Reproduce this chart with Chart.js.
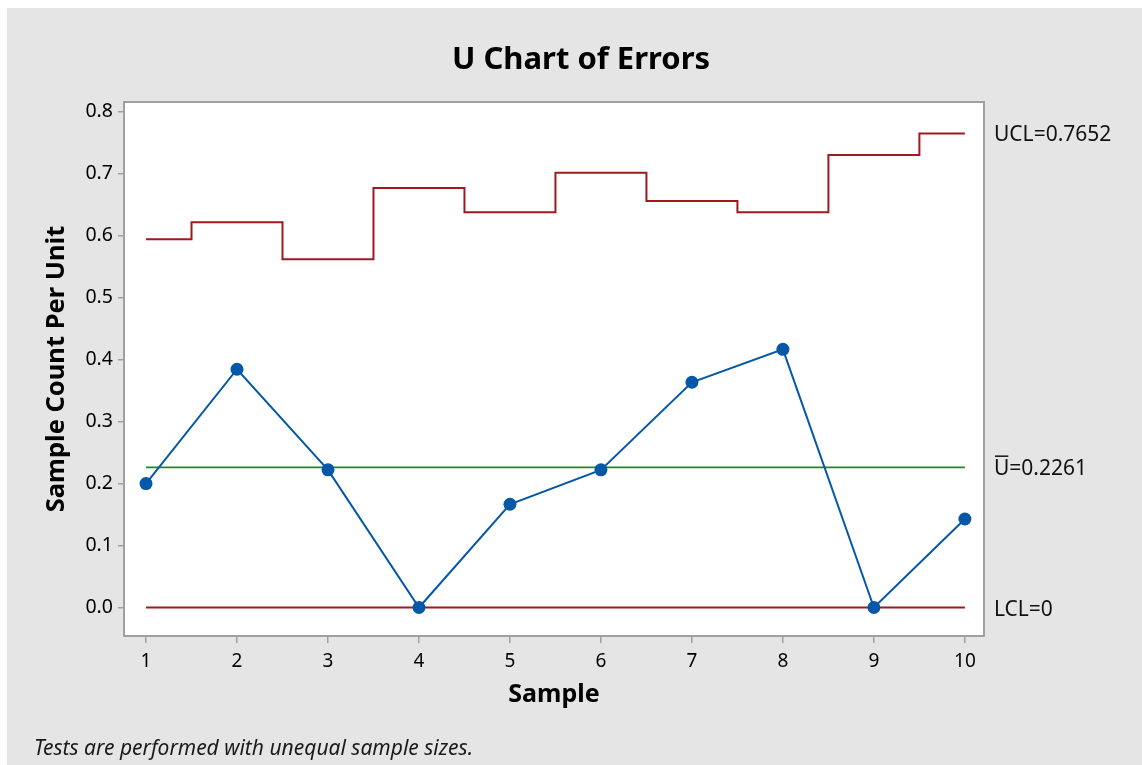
<!DOCTYPE html>
<html>
<head>
<meta charset="utf-8">
<title>U Chart of Errors</title>
<script src="https://cdn.jsdelivr.net/npm/chart.js@4.4.1/dist/chart.umd.min.js"></script>
<style>
  html, body { margin: 0; padding: 0; background: #fff; }
  #wrap { width: 1142px; height: 765px; }
</style>
</head>
<body>
<div id="wrap"><canvas id="u-chart" width="1142" height="765"></canvas></div>
<script>
// Errors per unit for each sample, with the control limits
const samples = [1, 2, 3, 4, 5, 6, 7, 8, 9, 10];
const errorsPerUnit = [0.2, 0.3846, 0.2222, 0, 0.1667, 0.2222, 0.3636, 0.4167, 0, 0.1429];
const ucl = [0.5944, 0.6217, 0.5623, 0.6772, 0.6379, 0.7016, 0.6562, 0.6379, 0.7304, 0.7652];
const uBar = 0.2261;
const lcl = 0;
const yTicks = [0, 0.1, 0.2, 0.3, 0.4, 0.5, 0.6, 0.7, 0.8];

const FONT = '"Noto Sans", "Open Sans", sans-serif';
const RED = '#9e1a1f';
const GREEN = '#1a8a28';
const BLUE = '#0558a8';
const FRAME = '#a0a0a0';

const toPoints = (xs, ys) => xs.map((x, i) => ({ x: x, y: ys[i] }));
const flat = v => [{ x: samples[0], y: v }, { x: samples[samples.length - 1], y: v }];

// grey page, white plot box
const backdrop = {
  id: 'backdrop',
  beforeDraw(chart) {
    const { ctx, chartArea: a } = chart;
    ctx.save();
    ctx.fillStyle = '#fff';
    ctx.fillRect(0, 0, chart.width, chart.height);
    ctx.fillStyle = '#e5e5e5';
    ctx.fillRect(7, 8, chart.width - 7, chart.height - 8);
    ctx.fillStyle = '#fff';
    ctx.fillRect(a.left, a.top, a.right - a.left, a.bottom - a.top);
    ctx.restore();
  },
  beforeDatasetsDraw(chart) {
    const { ctx, chartArea: a } = chart;
    ctx.save();
    ctx.strokeStyle = FRAME;
    ctx.lineWidth = 2;
    ctx.strokeRect(a.left, a.top, a.right - a.left, a.bottom - a.top);
    ctx.restore();
  }
};

// title, footnote and limit labels
const labels = {
  id: 'labels',
  afterDraw(chart) {
    const { ctx } = chart;
    const y = chart.scales.y;
    ctx.save();
    ctx.fillStyle = '#000';
    ctx.textBaseline = 'alphabetic';

    ctx.font = 'bold 31px ' + FONT;
    ctx.textAlign = 'center';
    ctx.fillText('U Chart of Errors', 581, 69);

    ctx.font = 'italic 21px ' + FONT;
    ctx.textAlign = 'left';
    ctx.fillStyle = '#1a1a1a';
    ctx.fillText('Tests are performed with unequal sample sizes.', 34, 755);

    ctx.fillStyle = '#111';
    ctx.font = '21px ' + FONT;
    const lx = 994;
    ctx.fillText('UCL=' + ucl[ucl.length - 1].toFixed(4), lx, y.getPixelForValue(ucl[ucl.length - 1]) + 8);
    const cy = y.getPixelForValue(uBar) + 8;
    ctx.fillText('U=' + uBar.toFixed(4), lx, cy);
    const uw = ctx.measureText('U').width;
    ctx.fillRect(lx + 1, cy - 20, uw - 2, 1.5);
    ctx.fillText('LCL=' + lcl, lx, y.getPixelForValue(lcl) + 8);
    ctx.restore();
  }
};

const tickGrid = { drawOnChartArea: false, drawTicks: true, color: FRAME, lineWidth: 1.5 };

new Chart(document.getElementById('u-chart'), {
  type: 'line',
  data: {
    datasets: [
      {
        label: 'Errors per unit',
        data: toPoints(samples, errorsPerUnit),
        borderColor: BLUE,
        backgroundColor: BLUE,
        borderWidth: 2,
        pointRadius: 6.5,
        pointBorderWidth: 0,
        pointBackgroundColor: BLUE
      },
      {
        label: 'UCL',
        data: toPoints(samples, ucl),
        stepped: 'middle',
        borderColor: RED,
        borderWidth: 2,
        pointRadius: 0
      },
      {
        label: 'U bar',
        data: flat(uBar),
        borderColor: GREEN,
        borderWidth: 1.8,
        pointRadius: 0
      },
      {
        label: 'LCL',
        data: flat(lcl),
        borderColor: RED,
        borderWidth: 2,
        pointRadius: 0
      }
    ]
  },
  options: {
    responsive: false,
    animation: false,
    devicePixelRatio: 1,
    layout: { padding: { top: 102, right: 158, bottom: 50, left: 0 } },
    plugins: {
      legend: { display: false },
      tooltip: { enabled: false },
      title: { display: false }
    },
    scales: {
      x: {
        type: 'linear',
        min: 0.758,
        max: 10.21,
        afterBuildTicks: s => { s.ticks = samples.map(v => ({ value: v })); },
        afterFit: s => { s.height = 79; },
        grid: Object.assign({ tickLength: 7 }, tickGrid),
        border: { display: false },
        ticks: {
          color: '#000',
          font: { family: FONT, size: 19 },
          padding: 7,
          maxRotation: 0,
          autoSkip: false
        },
        title: {
          display: true,
          text: 'Sample',
          color: '#000',
          font: { family: FONT, size: 25, weight: 'bold' },
          padding: { top: 0, bottom: 5 }
        }
      },
      y: {
        type: 'linear',
        min: -0.046,
        max: 0.816,
        afterBuildTicks: s => { s.ticks = yTicks.map(v => ({ value: v })); },
        afterFit: s => { s.width = 124; },
        grid: Object.assign({ tickLength: 6 }, tickGrid),
        border: { display: false },
        ticks: {
          color: '#000',
          font: { family: FONT, size: 19.5 },
          padding: 5,
          callback: v => Number(v).toFixed(1)
        },
        title: {
          display: true,
          text: 'Sample Count Per Unit',
          color: '#000',
          font: { family: FONT, size: 25.5, weight: 'bold' },
          padding: { top: 41, bottom: 0 }
        }
      }
    }
  },
  plugins: [backdrop, labels]
});
</script>
</body>
</html>
